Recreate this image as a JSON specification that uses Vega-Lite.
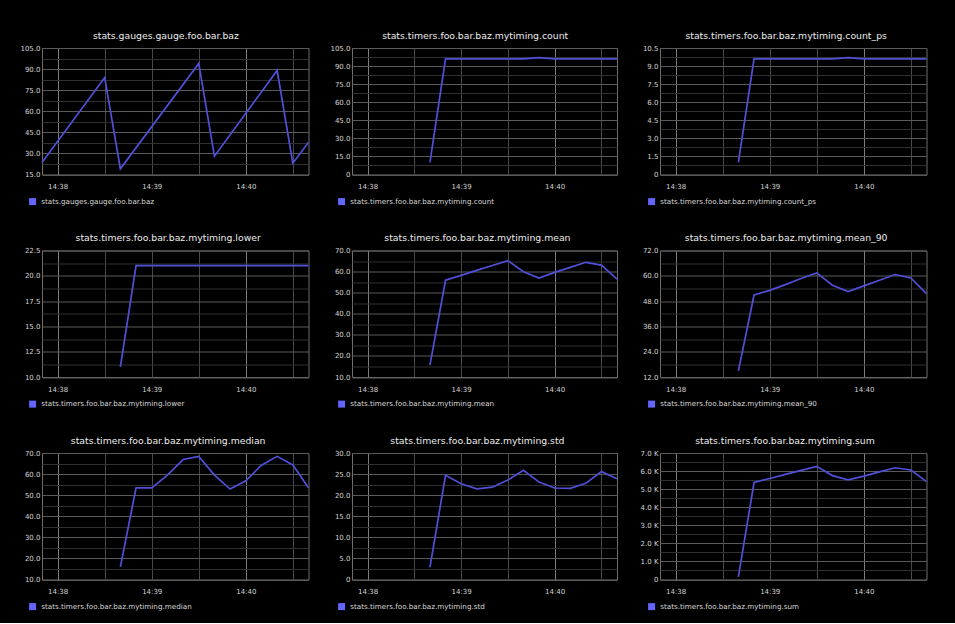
{
  "$schema": "https://vega.github.io/schema/vega-lite/v6.json",
  "padding": {"left": 19, "top": 31, "right": 27, "bottom": 11},
  "background": "#000000",
  "data": {"values": [
    {"m": "stats.gauges.gauge.foo.bar.baz", "t": "2013-01-01T14:37:50", "v": 23.5},
    {"m": "stats.gauges.gauge.foo.bar.baz", "t": "2013-01-01T14:38:30", "v": 84},
    {"m": "stats.gauges.gauge.foo.bar.baz", "t": "2013-01-01T14:38:40", "v": 19},
    {"m": "stats.gauges.gauge.foo.bar.baz", "t": "2013-01-01T14:39:30", "v": 94},
    {"m": "stats.gauges.gauge.foo.bar.baz", "t": "2013-01-01T14:39:40", "v": 28},
    {"m": "stats.gauges.gauge.foo.bar.baz", "t": "2013-01-01T14:40:20", "v": 89},
    {"m": "stats.gauges.gauge.foo.bar.baz", "t": "2013-01-01T14:40:30", "v": 23},
    {"m": "stats.gauges.gauge.foo.bar.baz", "t": "2013-01-01T14:40:40", "v": 38},

    {"m": "stats.timers.foo.bar.baz.mytiming.count", "t": "2013-01-01T14:38:40", "v": 10},
    {"m": "stats.timers.foo.bar.baz.mytiming.count", "t": "2013-01-01T14:38:50", "v": 96},
    {"m": "stats.timers.foo.bar.baz.mytiming.count", "t": "2013-01-01T14:39:00", "v": 96},
    {"m": "stats.timers.foo.bar.baz.mytiming.count", "t": "2013-01-01T14:39:10", "v": 96},
    {"m": "stats.timers.foo.bar.baz.mytiming.count", "t": "2013-01-01T14:39:20", "v": 96},
    {"m": "stats.timers.foo.bar.baz.mytiming.count", "t": "2013-01-01T14:39:30", "v": 96},
    {"m": "stats.timers.foo.bar.baz.mytiming.count", "t": "2013-01-01T14:39:40", "v": 96},
    {"m": "stats.timers.foo.bar.baz.mytiming.count", "t": "2013-01-01T14:39:50", "v": 97},
    {"m": "stats.timers.foo.bar.baz.mytiming.count", "t": "2013-01-01T14:40:00", "v": 96},
    {"m": "stats.timers.foo.bar.baz.mytiming.count", "t": "2013-01-01T14:40:10", "v": 96},
    {"m": "stats.timers.foo.bar.baz.mytiming.count", "t": "2013-01-01T14:40:20", "v": 96},
    {"m": "stats.timers.foo.bar.baz.mytiming.count", "t": "2013-01-01T14:40:30", "v": 96},
    {"m": "stats.timers.foo.bar.baz.mytiming.count", "t": "2013-01-01T14:40:40", "v": 96},

    {"m": "stats.timers.foo.bar.baz.mytiming.count_ps", "t": "2013-01-01T14:38:40", "v": 1.0},
    {"m": "stats.timers.foo.bar.baz.mytiming.count_ps", "t": "2013-01-01T14:38:50", "v": 9.6},
    {"m": "stats.timers.foo.bar.baz.mytiming.count_ps", "t": "2013-01-01T14:39:00", "v": 9.6},
    {"m": "stats.timers.foo.bar.baz.mytiming.count_ps", "t": "2013-01-01T14:39:10", "v": 9.6},
    {"m": "stats.timers.foo.bar.baz.mytiming.count_ps", "t": "2013-01-01T14:39:20", "v": 9.6},
    {"m": "stats.timers.foo.bar.baz.mytiming.count_ps", "t": "2013-01-01T14:39:30", "v": 9.6},
    {"m": "stats.timers.foo.bar.baz.mytiming.count_ps", "t": "2013-01-01T14:39:40", "v": 9.6},
    {"m": "stats.timers.foo.bar.baz.mytiming.count_ps", "t": "2013-01-01T14:39:50", "v": 9.7},
    {"m": "stats.timers.foo.bar.baz.mytiming.count_ps", "t": "2013-01-01T14:40:00", "v": 9.6},
    {"m": "stats.timers.foo.bar.baz.mytiming.count_ps", "t": "2013-01-01T14:40:10", "v": 9.6},
    {"m": "stats.timers.foo.bar.baz.mytiming.count_ps", "t": "2013-01-01T14:40:20", "v": 9.6},
    {"m": "stats.timers.foo.bar.baz.mytiming.count_ps", "t": "2013-01-01T14:40:30", "v": 9.6},
    {"m": "stats.timers.foo.bar.baz.mytiming.count_ps", "t": "2013-01-01T14:40:40", "v": 9.6},

    {"m": "stats.timers.foo.bar.baz.mytiming.lower", "t": "2013-01-01T14:38:40", "v": 11},
    {"m": "stats.timers.foo.bar.baz.mytiming.lower", "t": "2013-01-01T14:38:50", "v": 21},
    {"m": "stats.timers.foo.bar.baz.mytiming.lower", "t": "2013-01-01T14:39:00", "v": 21},
    {"m": "stats.timers.foo.bar.baz.mytiming.lower", "t": "2013-01-01T14:39:10", "v": 21},
    {"m": "stats.timers.foo.bar.baz.mytiming.lower", "t": "2013-01-01T14:39:20", "v": 21},
    {"m": "stats.timers.foo.bar.baz.mytiming.lower", "t": "2013-01-01T14:39:30", "v": 21},
    {"m": "stats.timers.foo.bar.baz.mytiming.lower", "t": "2013-01-01T14:39:40", "v": 21},
    {"m": "stats.timers.foo.bar.baz.mytiming.lower", "t": "2013-01-01T14:39:50", "v": 21},
    {"m": "stats.timers.foo.bar.baz.mytiming.lower", "t": "2013-01-01T14:40:00", "v": 21},
    {"m": "stats.timers.foo.bar.baz.mytiming.lower", "t": "2013-01-01T14:40:10", "v": 21},
    {"m": "stats.timers.foo.bar.baz.mytiming.lower", "t": "2013-01-01T14:40:20", "v": 21},
    {"m": "stats.timers.foo.bar.baz.mytiming.lower", "t": "2013-01-01T14:40:30", "v": 21},
    {"m": "stats.timers.foo.bar.baz.mytiming.lower", "t": "2013-01-01T14:40:40", "v": 21},

    {"m": "stats.timers.foo.bar.baz.mytiming.mean", "t": "2013-01-01T14:38:40", "v": 15.6},
    {"m": "stats.timers.foo.bar.baz.mytiming.mean", "t": "2013-01-01T14:38:50", "v": 55.9},
    {"m": "stats.timers.foo.bar.baz.mytiming.mean", "t": "2013-01-01T14:39:00", "v": 58.2},
    {"m": "stats.timers.foo.bar.baz.mytiming.mean", "t": "2013-01-01T14:39:10", "v": 60.6},
    {"m": "stats.timers.foo.bar.baz.mytiming.mean", "t": "2013-01-01T14:39:20", "v": 62.9},
    {"m": "stats.timers.foo.bar.baz.mytiming.mean", "t": "2013-01-01T14:39:30", "v": 65.2},
    {"m": "stats.timers.foo.bar.baz.mytiming.mean", "t": "2013-01-01T14:39:40", "v": 59.9},
    {"m": "stats.timers.foo.bar.baz.mytiming.mean", "t": "2013-01-01T14:39:50", "v": 56.9},
    {"m": "stats.timers.foo.bar.baz.mytiming.mean", "t": "2013-01-01T14:40:00", "v": 59.6},
    {"m": "stats.timers.foo.bar.baz.mytiming.mean", "t": "2013-01-01T14:40:10", "v": 62.0},
    {"m": "stats.timers.foo.bar.baz.mytiming.mean", "t": "2013-01-01T14:40:20", "v": 64.4},
    {"m": "stats.timers.foo.bar.baz.mytiming.mean", "t": "2013-01-01T14:40:30", "v": 63.1},
    {"m": "stats.timers.foo.bar.baz.mytiming.mean", "t": "2013-01-01T14:40:40", "v": 56.4},

    {"m": "stats.timers.foo.bar.baz.mytiming.mean_90", "t": "2013-01-01T14:38:40", "v": 14.9},
    {"m": "stats.timers.foo.bar.baz.mytiming.mean_90", "t": "2013-01-01T14:38:50", "v": 50.9},
    {"m": "stats.timers.foo.bar.baz.mytiming.mean_90", "t": "2013-01-01T14:39:00", "v": 53.1},
    {"m": "stats.timers.foo.bar.baz.mytiming.mean_90", "t": "2013-01-01T14:39:10", "v": 55.8},
    {"m": "stats.timers.foo.bar.baz.mytiming.mean_90", "t": "2013-01-01T14:39:20", "v": 58.7},
    {"m": "stats.timers.foo.bar.baz.mytiming.mean_90", "t": "2013-01-01T14:39:30", "v": 61.4},
    {"m": "stats.timers.foo.bar.baz.mytiming.mean_90", "t": "2013-01-01T14:39:40", "v": 55.5},
    {"m": "stats.timers.foo.bar.baz.mytiming.mean_90", "t": "2013-01-01T14:39:50", "v": 52.5},
    {"m": "stats.timers.foo.bar.baz.mytiming.mean_90", "t": "2013-01-01T14:40:00", "v": 55.2},
    {"m": "stats.timers.foo.bar.baz.mytiming.mean_90", "t": "2013-01-01T14:40:10", "v": 57.9},
    {"m": "stats.timers.foo.bar.baz.mytiming.mean_90", "t": "2013-01-01T14:40:20", "v": 60.6},
    {"m": "stats.timers.foo.bar.baz.mytiming.mean_90", "t": "2013-01-01T14:40:30", "v": 59.0},
    {"m": "stats.timers.foo.bar.baz.mytiming.mean_90", "t": "2013-01-01T14:40:40", "v": 51.5},

    {"m": "stats.timers.foo.bar.baz.mytiming.median", "t": "2013-01-01T14:38:40", "v": 16.0},
    {"m": "stats.timers.foo.bar.baz.mytiming.median", "t": "2013-01-01T14:38:50", "v": 53.5},
    {"m": "stats.timers.foo.bar.baz.mytiming.median", "t": "2013-01-01T14:39:00", "v": 53.5},
    {"m": "stats.timers.foo.bar.baz.mytiming.median", "t": "2013-01-01T14:39:10", "v": 59.5},
    {"m": "stats.timers.foo.bar.baz.mytiming.median", "t": "2013-01-01T14:39:20", "v": 66.9},
    {"m": "stats.timers.foo.bar.baz.mytiming.median", "t": "2013-01-01T14:39:30", "v": 68.4},
    {"m": "stats.timers.foo.bar.baz.mytiming.median", "t": "2013-01-01T14:39:40", "v": 59.5},
    {"m": "stats.timers.foo.bar.baz.mytiming.median", "t": "2013-01-01T14:39:50", "v": 52.9},
    {"m": "stats.timers.foo.bar.baz.mytiming.median", "t": "2013-01-01T14:40:00", "v": 56.8},
    {"m": "stats.timers.foo.bar.baz.mytiming.median", "t": "2013-01-01T14:40:10", "v": 64.2},
    {"m": "stats.timers.foo.bar.baz.mytiming.median", "t": "2013-01-01T14:40:20", "v": 68.4},
    {"m": "stats.timers.foo.bar.baz.mytiming.median", "t": "2013-01-01T14:40:30", "v": 64.3},
    {"m": "stats.timers.foo.bar.baz.mytiming.median", "t": "2013-01-01T14:40:40", "v": 53.5},

    {"m": "stats.timers.foo.bar.baz.mytiming.std", "t": "2013-01-01T14:38:40", "v": 2.9},
    {"m": "stats.timers.foo.bar.baz.mytiming.std", "t": "2013-01-01T14:38:50", "v": 24.7},
    {"m": "stats.timers.foo.bar.baz.mytiming.std", "t": "2013-01-01T14:39:00", "v": 22.7},
    {"m": "stats.timers.foo.bar.baz.mytiming.std", "t": "2013-01-01T14:39:10", "v": 21.5},
    {"m": "stats.timers.foo.bar.baz.mytiming.std", "t": "2013-01-01T14:39:20", "v": 21.9},
    {"m": "stats.timers.foo.bar.baz.mytiming.std", "t": "2013-01-01T14:39:30", "v": 23.6},
    {"m": "stats.timers.foo.bar.baz.mytiming.std", "t": "2013-01-01T14:39:40", "v": 25.9},
    {"m": "stats.timers.foo.bar.baz.mytiming.std", "t": "2013-01-01T14:39:50", "v": 23.1},
    {"m": "stats.timers.foo.bar.baz.mytiming.std", "t": "2013-01-01T14:40:00", "v": 21.7},
    {"m": "stats.timers.foo.bar.baz.mytiming.std", "t": "2013-01-01T14:40:10", "v": 21.6},
    {"m": "stats.timers.foo.bar.baz.mytiming.std", "t": "2013-01-01T14:40:20", "v": 22.8},
    {"m": "stats.timers.foo.bar.baz.mytiming.std", "t": "2013-01-01T14:40:30", "v": 25.6},
    {"m": "stats.timers.foo.bar.baz.mytiming.std", "t": "2013-01-01T14:40:40", "v": 23.9},

    {"m": "stats.timers.foo.bar.baz.mytiming.sum", "t": "2013-01-01T14:38:40", "v": 150},
    {"m": "stats.timers.foo.bar.baz.mytiming.sum", "t": "2013-01-01T14:38:50", "v": 5366},
    {"m": "stats.timers.foo.bar.baz.mytiming.sum", "t": "2013-01-01T14:39:00", "v": 5590},
    {"m": "stats.timers.foo.bar.baz.mytiming.sum", "t": "2013-01-01T14:39:10", "v": 5818},
    {"m": "stats.timers.foo.bar.baz.mytiming.sum", "t": "2013-01-01T14:39:20", "v": 6038},
    {"m": "stats.timers.foo.bar.baz.mytiming.sum", "t": "2013-01-01T14:39:30", "v": 6259},
    {"m": "stats.timers.foo.bar.baz.mytiming.sum", "t": "2013-01-01T14:39:40", "v": 5750},
    {"m": "stats.timers.foo.bar.baz.mytiming.sum", "t": "2013-01-01T14:39:50", "v": 5519},
    {"m": "stats.timers.foo.bar.baz.mytiming.sum", "t": "2013-01-01T14:40:00", "v": 5722},
    {"m": "stats.timers.foo.bar.baz.mytiming.sum", "t": "2013-01-01T14:40:10", "v": 5952},
    {"m": "stats.timers.foo.bar.baz.mytiming.sum", "t": "2013-01-01T14:40:20", "v": 6182},
    {"m": "stats.timers.foo.bar.baz.mytiming.sum", "t": "2013-01-01T14:40:30", "v": 6058},
    {"m": "stats.timers.foo.bar.baz.mytiming.sum", "t": "2013-01-01T14:40:40", "v": 5414}
  ]},
  "columns": 3,
  "bounds": "flush",
  "align": "each",
  "spacing": {"row": 75.5, "column": 43},
  "resolve": {"scale": {"x": "independent", "y": "independent", "color": "independent"}, "legend": {"color": "independent"}},
  "concat": [
    {
      "title": "stats.gauges.gauge.foo.bar.baz",
      "width": 266.5, "height": 126.5,
      "transform": [{"filter": "datum.m === 'stats.gauges.gauge.foo.bar.baz'"}],
      "encoding": {
        "x": {"field": "t", "type": "temporal", "title": null,
          "scale": {"domain": [{"year": 2013, "month": 1, "date": 1, "hours": 14, "minutes": 37, "seconds": 50}, {"year": 2013, "month": 1, "date": 1, "hours": 14, "minutes": 40, "seconds": 40}]},
          "axis": {"values": [{"year": 2013, "month": 1, "date": 1, "hours": 14, "minutes": 38, "seconds": 0}, {"year": 2013, "month": 1, "date": 1, "hours": 14, "minutes": 38, "seconds": 30}, {"year": 2013, "month": 1, "date": 1, "hours": 14, "minutes": 39, "seconds": 0}, {"year": 2013, "month": 1, "date": 1, "hours": 14, "minutes": 39, "seconds": 30}, {"year": 2013, "month": 1, "date": 1, "hours": 14, "minutes": 40, "seconds": 0}, {"year": 2013, "month": 1, "date": 1, "hours": 14, "minutes": 40, "seconds": 30}],
            "labelExpr": "seconds(datum.value) === 0 ? timeFormat(datum.value, '%H:%M') : ''",
            "gridColor": {"condition": {"test": "seconds(datum.value) === 0 && minutes(datum.value) % 2 === 0", "value": "#7c7c7c"}, "value": "#484848"}}},
        "y": {"field": "v", "type": "quantitative", "title": null,
          "scale": {"domain": [15, 105], "nice": false, "zero": false},
          "axis": {"values": [15, 22.5, 30, 37.5, 45, 52.5, 60, 67.5, 75, 82.5, 90, 97.5, 105],
            "labelExpr": "(datum.value - 15) % 15 === 0 ? format(datum.value, '.1f') : ''",
            "gridColor": {"condition": {"test": "(datum.value - 15) % 15 === 0", "value": "#5a5a5a"}, "value": "#303030"}}}
      },
      "layer": [
        {"mark": {"type": "line", "color": "#5050d8", "strokeWidth": 1.7}},
        {"mark": {"type": "point", "shape": "square", "filled": true, "opacity": 0},
          "encoding": {"color": {"field": "m", "type": "nominal", "title": null, "scale": {"range": ["#6464ff"]},
            "legend": {"legendX": -13, "legendY": 150, "symbolOpacity": 1}}}}
      ]
    },
    {
      "title": "stats.timers.foo.bar.baz.mytiming.count",
      "width": 265, "height": 126.5,
      "transform": [{"filter": "datum.m === 'stats.timers.foo.bar.baz.mytiming.count'"}],
      "encoding": {
        "x": {"field": "t", "type": "temporal", "title": null,
          "scale": {"domain": [{"year": 2013, "month": 1, "date": 1, "hours": 14, "minutes": 37, "seconds": 50}, {"year": 2013, "month": 1, "date": 1, "hours": 14, "minutes": 40, "seconds": 40}]},
          "axis": {"values": [{"year": 2013, "month": 1, "date": 1, "hours": 14, "minutes": 38, "seconds": 0}, {"year": 2013, "month": 1, "date": 1, "hours": 14, "minutes": 38, "seconds": 30}, {"year": 2013, "month": 1, "date": 1, "hours": 14, "minutes": 39, "seconds": 0}, {"year": 2013, "month": 1, "date": 1, "hours": 14, "minutes": 39, "seconds": 30}, {"year": 2013, "month": 1, "date": 1, "hours": 14, "minutes": 40, "seconds": 0}, {"year": 2013, "month": 1, "date": 1, "hours": 14, "minutes": 40, "seconds": 30}],
            "labelExpr": "seconds(datum.value) === 0 ? timeFormat(datum.value, '%H:%M') : ''",
            "gridColor": {"condition": {"test": "seconds(datum.value) === 0 && minutes(datum.value) % 2 === 0", "value": "#7c7c7c"}, "value": "#484848"}}},
        "y": {"field": "v", "type": "quantitative", "title": null,
          "scale": {"domain": [0, 105], "nice": false, "zero": false},
          "axis": {"values": [0, 7.5, 15, 22.5, 30, 37.5, 45, 52.5, 60, 67.5, 75, 82.5, 90, 97.5, 105],
            "labelExpr": "datum.value % 15 === 0 ? (datum.value === 0 ? '0' : format(datum.value, '.1f')) : ''",
            "gridColor": {"condition": {"test": "datum.value % 15 === 0", "value": "#5a5a5a"}, "value": "#303030"}}}
      },
      "layer": [
        {"mark": {"type": "line", "color": "#5050d8", "strokeWidth": 1.7}},
        {"mark": {"type": "point", "shape": "square", "filled": true, "opacity": 0},
          "encoding": {"color": {"field": "m", "type": "nominal", "title": null, "scale": {"range": ["#6464ff"]},
            "legend": {"legendX": -14, "legendY": 150, "symbolOpacity": 1}}}}
      ]
    },
    {
      "title": "stats.timers.foo.bar.baz.mytiming.count_ps",
      "width": 266.5, "height": 126.5,
      "transform": [{"filter": "datum.m === 'stats.timers.foo.bar.baz.mytiming.count_ps'"}],
      "encoding": {
        "x": {"field": "t", "type": "temporal", "title": null,
          "scale": {"domain": [{"year": 2013, "month": 1, "date": 1, "hours": 14, "minutes": 37, "seconds": 50}, {"year": 2013, "month": 1, "date": 1, "hours": 14, "minutes": 40, "seconds": 40}]},
          "axis": {"values": [{"year": 2013, "month": 1, "date": 1, "hours": 14, "minutes": 38, "seconds": 0}, {"year": 2013, "month": 1, "date": 1, "hours": 14, "minutes": 38, "seconds": 30}, {"year": 2013, "month": 1, "date": 1, "hours": 14, "minutes": 39, "seconds": 0}, {"year": 2013, "month": 1, "date": 1, "hours": 14, "minutes": 39, "seconds": 30}, {"year": 2013, "month": 1, "date": 1, "hours": 14, "minutes": 40, "seconds": 0}, {"year": 2013, "month": 1, "date": 1, "hours": 14, "minutes": 40, "seconds": 30}],
            "labelExpr": "seconds(datum.value) === 0 ? timeFormat(datum.value, '%H:%M') : ''",
            "gridColor": {"condition": {"test": "seconds(datum.value) === 0 && minutes(datum.value) % 2 === 0", "value": "#7c7c7c"}, "value": "#484848"}}},
        "y": {"field": "v", "type": "quantitative", "title": null,
          "scale": {"domain": [0, 10.5], "nice": false, "zero": false},
          "axis": {"values": [0, 0.75, 1.5, 2.25, 3, 3.75, 4.5, 5.25, 6, 6.75, 7.5, 8.25, 9, 9.75, 10.5],
            "labelExpr": "datum.value % 1.5 === 0 ? (datum.value === 0 ? '0' : format(datum.value, '.1f')) : ''",
            "gridColor": {"condition": {"test": "datum.value % 1.5 === 0", "value": "#5a5a5a"}, "value": "#303030"}}}
      },
      "layer": [
        {"mark": {"type": "line", "color": "#5050d8", "strokeWidth": 1.7}},
        {"mark": {"type": "point", "shape": "square", "filled": true, "opacity": 0},
          "encoding": {"color": {"field": "m", "type": "nominal", "title": null, "scale": {"range": ["#6464ff"]},
            "legend": {"legendX": -12, "legendY": 150, "symbolOpacity": 1}}}}
      ]
    },
    {
      "title": "stats.timers.foo.bar.baz.mytiming.lower",
      "width": 266.5, "height": 126.5,
      "transform": [{"filter": "datum.m === 'stats.timers.foo.bar.baz.mytiming.lower'"}],
      "encoding": {
        "x": {"field": "t", "type": "temporal", "title": null,
          "scale": {"domain": [{"year": 2013, "month": 1, "date": 1, "hours": 14, "minutes": 37, "seconds": 50}, {"year": 2013, "month": 1, "date": 1, "hours": 14, "minutes": 40, "seconds": 40}]},
          "axis": {"values": [{"year": 2013, "month": 1, "date": 1, "hours": 14, "minutes": 38, "seconds": 0}, {"year": 2013, "month": 1, "date": 1, "hours": 14, "minutes": 38, "seconds": 30}, {"year": 2013, "month": 1, "date": 1, "hours": 14, "minutes": 39, "seconds": 0}, {"year": 2013, "month": 1, "date": 1, "hours": 14, "minutes": 39, "seconds": 30}, {"year": 2013, "month": 1, "date": 1, "hours": 14, "minutes": 40, "seconds": 0}, {"year": 2013, "month": 1, "date": 1, "hours": 14, "minutes": 40, "seconds": 30}],
            "labelExpr": "seconds(datum.value) === 0 ? timeFormat(datum.value, '%H:%M') : ''",
            "gridColor": {"condition": {"test": "seconds(datum.value) === 0 && minutes(datum.value) % 2 === 0", "value": "#7c7c7c"}, "value": "#484848"}}},
        "y": {"field": "v", "type": "quantitative", "title": null,
          "scale": {"domain": [10, 22.5], "nice": false, "zero": false},
          "axis": {"values": [10, 11.25, 12.5, 13.75, 15, 16.25, 17.5, 18.75, 20, 21.25, 22.5],
            "labelExpr": "(datum.value - 10) % 2.5 === 0 ? format(datum.value, '.1f') : ''",
            "gridColor": {"condition": {"test": "(datum.value - 10) % 2.5 === 0", "value": "#5a5a5a"}, "value": "#303030"}}}
      },
      "layer": [
        {"mark": {"type": "line", "color": "#5050d8", "strokeWidth": 1.7}},
        {"mark": {"type": "point", "shape": "square", "filled": true, "opacity": 0},
          "encoding": {"color": {"field": "m", "type": "nominal", "title": null, "scale": {"range": ["#6464ff"]},
            "legend": {"legendX": -13, "legendY": 150, "symbolOpacity": 1}}}}
      ]
    },
    {
      "title": "stats.timers.foo.bar.baz.mytiming.mean",
      "width": 265, "height": 126.5,
      "transform": [{"filter": "datum.m === 'stats.timers.foo.bar.baz.mytiming.mean'"}],
      "encoding": {
        "x": {"field": "t", "type": "temporal", "title": null,
          "scale": {"domain": [{"year": 2013, "month": 1, "date": 1, "hours": 14, "minutes": 37, "seconds": 50}, {"year": 2013, "month": 1, "date": 1, "hours": 14, "minutes": 40, "seconds": 40}]},
          "axis": {"values": [{"year": 2013, "month": 1, "date": 1, "hours": 14, "minutes": 38, "seconds": 0}, {"year": 2013, "month": 1, "date": 1, "hours": 14, "minutes": 38, "seconds": 30}, {"year": 2013, "month": 1, "date": 1, "hours": 14, "minutes": 39, "seconds": 0}, {"year": 2013, "month": 1, "date": 1, "hours": 14, "minutes": 39, "seconds": 30}, {"year": 2013, "month": 1, "date": 1, "hours": 14, "minutes": 40, "seconds": 0}, {"year": 2013, "month": 1, "date": 1, "hours": 14, "minutes": 40, "seconds": 30}],
            "labelExpr": "seconds(datum.value) === 0 ? timeFormat(datum.value, '%H:%M') : ''",
            "gridColor": {"condition": {"test": "seconds(datum.value) === 0 && minutes(datum.value) % 2 === 0", "value": "#7c7c7c"}, "value": "#484848"}}},
        "y": {"field": "v", "type": "quantitative", "title": null,
          "scale": {"domain": [10, 70], "nice": false, "zero": false},
          "axis": {"values": [10, 15, 20, 25, 30, 35, 40, 45, 50, 55, 60, 65, 70],
            "labelExpr": "datum.value % 10 === 0 ? format(datum.value, '.1f') : ''",
            "gridColor": {"condition": {"test": "datum.value % 10 === 0", "value": "#5a5a5a"}, "value": "#303030"}}}
      },
      "layer": [
        {"mark": {"type": "line", "color": "#5050d8", "strokeWidth": 1.7}},
        {"mark": {"type": "point", "shape": "square", "filled": true, "opacity": 0},
          "encoding": {"color": {"field": "m", "type": "nominal", "title": null, "scale": {"range": ["#6464ff"]},
            "legend": {"legendX": -14, "legendY": 150, "symbolOpacity": 1}}}}
      ]
    },
    {
      "title": "stats.timers.foo.bar.baz.mytiming.mean_90",
      "width": 266.5, "height": 126.5,
      "transform": [{"filter": "datum.m === 'stats.timers.foo.bar.baz.mytiming.mean_90'"}],
      "encoding": {
        "x": {"field": "t", "type": "temporal", "title": null,
          "scale": {"domain": [{"year": 2013, "month": 1, "date": 1, "hours": 14, "minutes": 37, "seconds": 50}, {"year": 2013, "month": 1, "date": 1, "hours": 14, "minutes": 40, "seconds": 40}]},
          "axis": {"values": [{"year": 2013, "month": 1, "date": 1, "hours": 14, "minutes": 38, "seconds": 0}, {"year": 2013, "month": 1, "date": 1, "hours": 14, "minutes": 38, "seconds": 30}, {"year": 2013, "month": 1, "date": 1, "hours": 14, "minutes": 39, "seconds": 0}, {"year": 2013, "month": 1, "date": 1, "hours": 14, "minutes": 39, "seconds": 30}, {"year": 2013, "month": 1, "date": 1, "hours": 14, "minutes": 40, "seconds": 0}, {"year": 2013, "month": 1, "date": 1, "hours": 14, "minutes": 40, "seconds": 30}],
            "labelExpr": "seconds(datum.value) === 0 ? timeFormat(datum.value, '%H:%M') : ''",
            "gridColor": {"condition": {"test": "seconds(datum.value) === 0 && minutes(datum.value) % 2 === 0", "value": "#7c7c7c"}, "value": "#484848"}}},
        "y": {"field": "v", "type": "quantitative", "title": null,
          "scale": {"domain": [12, 72], "nice": false, "zero": false},
          "axis": {"values": [12, 18, 24, 30, 36, 42, 48, 54, 60, 66, 72],
            "labelExpr": "datum.value % 12 === 0 ? format(datum.value, '.1f') : ''",
            "gridColor": {"condition": {"test": "datum.value % 12 === 0", "value": "#5a5a5a"}, "value": "#303030"}}}
      },
      "layer": [
        {"mark": {"type": "line", "color": "#5050d8", "strokeWidth": 1.7}},
        {"mark": {"type": "point", "shape": "square", "filled": true, "opacity": 0},
          "encoding": {"color": {"field": "m", "type": "nominal", "title": null, "scale": {"range": ["#6464ff"]},
            "legend": {"legendX": -12, "legendY": 150, "symbolOpacity": 1}}}}
      ]
    },
    {
      "title": "stats.timers.foo.bar.baz.mytiming.median",
      "width": 266.5, "height": 126.5,
      "transform": [{"filter": "datum.m === 'stats.timers.foo.bar.baz.mytiming.median'"}],
      "encoding": {
        "x": {"field": "t", "type": "temporal", "title": null,
          "scale": {"domain": [{"year": 2013, "month": 1, "date": 1, "hours": 14, "minutes": 37, "seconds": 50}, {"year": 2013, "month": 1, "date": 1, "hours": 14, "minutes": 40, "seconds": 40}]},
          "axis": {"values": [{"year": 2013, "month": 1, "date": 1, "hours": 14, "minutes": 38, "seconds": 0}, {"year": 2013, "month": 1, "date": 1, "hours": 14, "minutes": 38, "seconds": 30}, {"year": 2013, "month": 1, "date": 1, "hours": 14, "minutes": 39, "seconds": 0}, {"year": 2013, "month": 1, "date": 1, "hours": 14, "minutes": 39, "seconds": 30}, {"year": 2013, "month": 1, "date": 1, "hours": 14, "minutes": 40, "seconds": 0}, {"year": 2013, "month": 1, "date": 1, "hours": 14, "minutes": 40, "seconds": 30}],
            "labelExpr": "seconds(datum.value) === 0 ? timeFormat(datum.value, '%H:%M') : ''",
            "gridColor": {"condition": {"test": "seconds(datum.value) === 0 && minutes(datum.value) % 2 === 0", "value": "#7c7c7c"}, "value": "#484848"}}},
        "y": {"field": "v", "type": "quantitative", "title": null,
          "scale": {"domain": [10, 70], "nice": false, "zero": false},
          "axis": {"values": [10, 15, 20, 25, 30, 35, 40, 45, 50, 55, 60, 65, 70],
            "labelExpr": "datum.value % 10 === 0 ? format(datum.value, '.1f') : ''",
            "gridColor": {"condition": {"test": "datum.value % 10 === 0", "value": "#5a5a5a"}, "value": "#303030"}}}
      },
      "layer": [
        {"mark": {"type": "line", "color": "#5050d8", "strokeWidth": 1.7}},
        {"mark": {"type": "point", "shape": "square", "filled": true, "opacity": 0},
          "encoding": {"color": {"field": "m", "type": "nominal", "title": null, "scale": {"range": ["#6464ff"]},
            "legend": {"legendX": -13, "legendY": 150, "symbolOpacity": 1}}}}
      ]
    },
    {
      "title": "stats.timers.foo.bar.baz.mytiming.std",
      "width": 265, "height": 126.5,
      "transform": [{"filter": "datum.m === 'stats.timers.foo.bar.baz.mytiming.std'"}],
      "encoding": {
        "x": {"field": "t", "type": "temporal", "title": null,
          "scale": {"domain": [{"year": 2013, "month": 1, "date": 1, "hours": 14, "minutes": 37, "seconds": 50}, {"year": 2013, "month": 1, "date": 1, "hours": 14, "minutes": 40, "seconds": 40}]},
          "axis": {"values": [{"year": 2013, "month": 1, "date": 1, "hours": 14, "minutes": 38, "seconds": 0}, {"year": 2013, "month": 1, "date": 1, "hours": 14, "minutes": 38, "seconds": 30}, {"year": 2013, "month": 1, "date": 1, "hours": 14, "minutes": 39, "seconds": 0}, {"year": 2013, "month": 1, "date": 1, "hours": 14, "minutes": 39, "seconds": 30}, {"year": 2013, "month": 1, "date": 1, "hours": 14, "minutes": 40, "seconds": 0}, {"year": 2013, "month": 1, "date": 1, "hours": 14, "minutes": 40, "seconds": 30}],
            "labelExpr": "seconds(datum.value) === 0 ? timeFormat(datum.value, '%H:%M') : ''",
            "gridColor": {"condition": {"test": "seconds(datum.value) === 0 && minutes(datum.value) % 2 === 0", "value": "#7c7c7c"}, "value": "#484848"}}},
        "y": {"field": "v", "type": "quantitative", "title": null,
          "scale": {"domain": [0, 30], "nice": false, "zero": false},
          "axis": {"values": [0, 2.5, 5, 7.5, 10, 12.5, 15, 17.5, 20, 22.5, 25, 27.5, 30],
            "labelExpr": "datum.value % 5 === 0 ? (datum.value === 0 ? '0' : format(datum.value, '.1f')) : ''",
            "gridColor": {"condition": {"test": "datum.value % 5 === 0", "value": "#5a5a5a"}, "value": "#303030"}}}
      },
      "layer": [
        {"mark": {"type": "line", "color": "#5050d8", "strokeWidth": 1.7}},
        {"mark": {"type": "point", "shape": "square", "filled": true, "opacity": 0},
          "encoding": {"color": {"field": "m", "type": "nominal", "title": null, "scale": {"range": ["#6464ff"]},
            "legend": {"legendX": -14, "legendY": 150, "symbolOpacity": 1}}}}
      ]
    },
    {
      "title": "stats.timers.foo.bar.baz.mytiming.sum",
      "width": 266.5, "height": 126.5,
      "transform": [{"filter": "datum.m === 'stats.timers.foo.bar.baz.mytiming.sum'"}],
      "encoding": {
        "x": {"field": "t", "type": "temporal", "title": null,
          "scale": {"domain": [{"year": 2013, "month": 1, "date": 1, "hours": 14, "minutes": 37, "seconds": 50}, {"year": 2013, "month": 1, "date": 1, "hours": 14, "minutes": 40, "seconds": 40}]},
          "axis": {"values": [{"year": 2013, "month": 1, "date": 1, "hours": 14, "minutes": 38, "seconds": 0}, {"year": 2013, "month": 1, "date": 1, "hours": 14, "minutes": 38, "seconds": 30}, {"year": 2013, "month": 1, "date": 1, "hours": 14, "minutes": 39, "seconds": 0}, {"year": 2013, "month": 1, "date": 1, "hours": 14, "minutes": 39, "seconds": 30}, {"year": 2013, "month": 1, "date": 1, "hours": 14, "minutes": 40, "seconds": 0}, {"year": 2013, "month": 1, "date": 1, "hours": 14, "minutes": 40, "seconds": 30}],
            "labelExpr": "seconds(datum.value) === 0 ? timeFormat(datum.value, '%H:%M') : ''",
            "gridColor": {"condition": {"test": "seconds(datum.value) === 0 && minutes(datum.value) % 2 === 0", "value": "#7c7c7c"}, "value": "#484848"}}},
        "y": {"field": "v", "type": "quantitative", "title": null,
          "scale": {"domain": [0, 7000], "nice": false, "zero": false},
          "axis": {"values": [0, 500, 1000, 1500, 2000, 2500, 3000, 3500, 4000, 4500, 5000, 5500, 6000, 6500, 7000],
            "labelExpr": "datum.value % 1000 === 0 ? (datum.value === 0 ? '0' : format(datum.value / 1000, '.1f') + ' K') : ''",
            "gridColor": {"condition": {"test": "datum.value % 1000 === 0", "value": "#5a5a5a"}, "value": "#303030"}}}
      },
      "layer": [
        {"mark": {"type": "line", "color": "#5050d8", "strokeWidth": 1.7}},
        {"mark": {"type": "point", "shape": "square", "filled": true, "opacity": 0},
          "encoding": {"color": {"field": "m", "type": "nominal", "title": null, "scale": {"range": ["#6464ff"]},
            "legend": {"legendX": -12, "legendY": 150, "symbolOpacity": 1}}}}
      ]
    }
  ],
  "config": {
    "font": "DejaVu Sans",
    "view": {"stroke": "#6e6e6e", "strokeWidth": 1},
    "axis": {"labelFont": "DejaVu Sans", "labelFontSize": 7, "labelColor": "#d4d4d4", "ticks": false, "domain": false, "grid": true, "gridWidth": 1, "gridOpacity": 1, "labelOverlap": false, "labelFlush": false},
    "axisX": {"labelPadding": 8},
    "axisY": {"labelPadding": 2},
    "title": {"font": "DejaVu Sans", "fontSize": 9.3, "fontWeight": "normal", "color": "#ececec", "anchor": "middle", "frame": "bounds", "offset": 3, "baseline": "bottom"},
    "legend": {"orient": "none", "padding": 0, "symbolType": "square", "symbolSize": 49, "symbolStrokeWidth": 0, "labelFont": "DejaVu Sans", "labelFontSize": 7.2, "labelColor": "#d8d8d8", "labelOffset": 5}
  }
}
